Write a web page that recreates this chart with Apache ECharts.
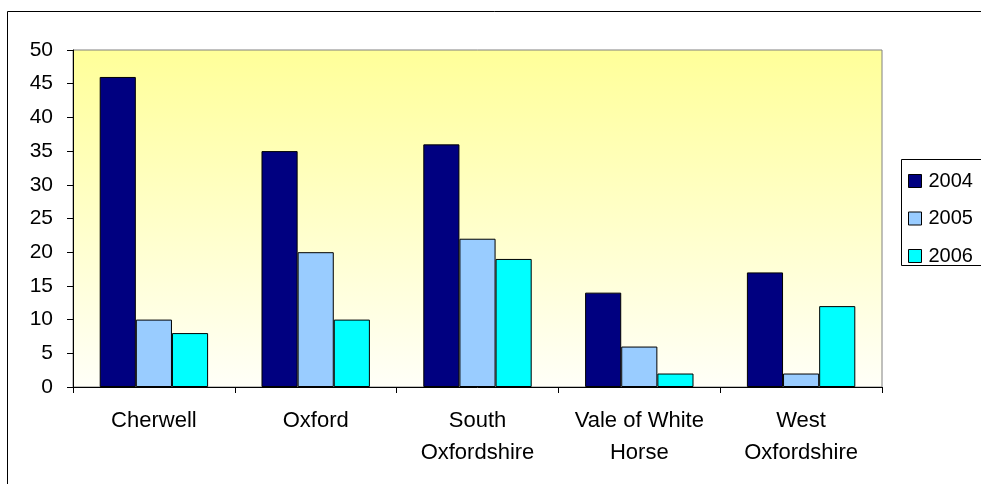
<!DOCTYPE html>
<html><head><meta charset="utf-8">
<script src="https://cdn.jsdelivr.net/npm/echarts@6/dist/echarts.min.js"></script>
<style>html,body{margin:0;padding:0;background:#fff}#c{width:981px;height:484px}</style>
</head><body><div id="c"></div>
<script>
const categories = ['Cherwell', 'Oxford', 'South\nOxfordshire', 'Vale of White\nHorse', 'West\nOxfordshire'];
const seriesNames = ['2004', '2005', '2006'];
const values2004 = [46, 35, 36, 14, 17];
const values2005 = [10, 20, 22, 6, 2];
const values2006 = [8, 10, 19, 2, 12];
const colors = ['#000080', '#99CCFF', '#00FFFF'];

const chart = echarts.init(document.getElementById('c'), null, {renderer: 'canvas'});
const FONT = 'Liberation Sans, Arial, sans-serif';
const mk = (name, data, color) => ({
  name, type: 'bar', data, barGap: '0%', barCategoryGap: '33%',
  itemStyle: {color, borderColor: '#000', borderWidth: 1},
  emphasis: {disabled: true}
});
chart.setOption({
  animation: false,
  backgroundColor: '#fff',
  graphic: [
    {type: 'rect', shape: {x: 7.5, y: 11.5, width: 1000, height: 500}, style: {fill: null, stroke: '#000', lineWidth: 1}, z: 0},
    {type: 'rect', shape: {x: 901.5, y: 159.5, width: 200, height: 106}, style: {fill: '#fff', stroke: '#000', lineWidth: 1}, z: 1}
  ],
  grid: {left: 73, top: 50, width: 809, height: 337, show: true, borderColor: '#808080', borderWidth: 1,
    backgroundColor: new echarts.graphic.LinearGradient(0, 0, 0, 1, [{offset: 0, color: '#FFFF99'}, {offset: 1, color: '#FFFFF8'}])},
  legend: {
    orient: 'vertical', left: 903, top: 166, itemWidth: 13, itemHeight: 13, itemGap: 17.5,
    data: seriesNames, icon: 'rect',
    itemStyle: {borderColor: '#000', borderWidth: 1},
    textStyle: {fontFamily: FONT, fontSize: 20, color: '#000', padding: [0, 0, 0, 2]},
    z: 5
  },
  xAxis: {
    type: 'category', data: categories,
    axisLine: {lineStyle: {color: '#000', width: 1}},
    axisTick: {show: true, length: 6, alignWithLabel: false, lineStyle: {color: '#000'}},
    axisLabel: {fontFamily: FONT, fontSize: 22, color: '#000', margin: 18, lineHeight: 32, interval: 0}
  },
  yAxis: {
    type: 'value', min: 0, max: 50, interval: 5,
    axisLine: {show: true, lineStyle: {color: '#000', width: 1}},
    axisTick: {show: true, length: 6, lineStyle: {color: '#000'}},
    splitLine: {show: false},
    axisLabel: {fontFamily: FONT, fontSize: 21, color: '#000', margin: 20}
  },
  series: [mk('2004', values2004, colors[0]), mk('2005', values2005, colors[1]), mk('2006', values2006, colors[2])]
});
</script></body></html>
